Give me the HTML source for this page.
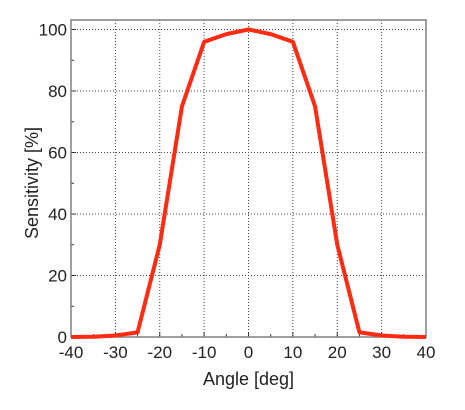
<!DOCTYPE html>
<html><head><meta charset="utf-8"><style>
body{margin:0;background:#fff;}
svg{display:block;font-family:"Liberation Sans",Arial,sans-serif;}
</style></head><body>
<svg id="chart" width="465" height="410" viewBox="0 0 465 410">
<g id="grid"></g>
<g id="axes"></g>
<g id="series"></g>
<text x="248.5" y="385" font-size="18" text-anchor="middle" fill="#222">Angle [deg]</text>
<text transform="translate(38,183) rotate(-90)" font-size="18" text-anchor="middle" fill="#222">Sensitivity [%]</text>
</svg>
<script>
const angles=[-40,-35,-30,-25,-20,-15,-10,-5,0,5,10,15,20,25,30,35,40];
const sensitivity=[0,0.1,0.5,1.5,30,75,96,98.5,100,98.5,96,75,30,1.5,0.5,0.1,0];
const xTicks=[-40,-30,-20,-10,0,10,20,30,40];
const yTicks=[0,20,40,60,80,100];
const L=71,R=426,T=20,B=337;
const xS=v=>L+(v+40)/80*(R-L);
const yS=v=>B-v*3.075;
const NS="http://www.w3.org/2000/svg";
function mk(tag,attrs,parent){const e=document.createElementNS(NS,tag);for(const k in attrs)e.setAttribute(k,attrs[k]);parent.appendChild(e);return e;}
const grid=document.getElementById('grid'),axes=document.getElementById('axes'),series=document.getElementById('series');
xTicks.forEach(v=>{
 if(v>-40&&v<40){const g=mk('line',{x1:xS(v),x2:xS(v),y1:T,y2:B,stroke:'#444','stroke-width':1,'stroke-dasharray':'1,2'},grid);
 
 }
 const t=mk('text',{x:xS(v),y:B+21,'font-size':17,'text-anchor':'middle',fill:'#222'},axes);t.textContent=v;
 
 
 mk('line',{x1:xS(v),x2:xS(v),y1:B,y2:B-5,stroke:'#333'},axes);
 if(v<40){mk('line',{x1:xS(v+5),x2:xS(v+5),y1:B,y2:B-3,stroke:'#333'},axes);}
});
yTicks.forEach(v=>{
 if(v>0){const g=mk('line',{x1:L,x2:R,y1:yS(v),y2:yS(v),stroke:'#444','stroke-width':1,'stroke-dasharray':'1,2'},grid);
 
 }
 const t=mk('text',{x:L-4,y:yS(v)+6,'font-size':17,'text-anchor':'end',fill:'#222'},axes);t.textContent=v;
 
 
 mk('line',{x1:L,x2:L+5,y1:yS(v),y2:yS(v),stroke:'#333'},axes);
 if(v<100){mk('line',{x1:L,x2:L+3,y1:yS(v+10),y2:yS(v+10),stroke:'#333'},axes);}
});
const frame=mk('rect',{x:L,y:T,width:R-L,height:B-T,fill:'none',stroke:'#808080','stroke-width':1.5},axes);


const pl=mk('polyline',{points:angles.map((a,i)=>xS(a)+','+yS(sensitivity[i])).join(' '),fill:'none',stroke:'#ff2a12','stroke-width':4,'stroke-linejoin':'round'},series);


</script>
</body></html>
